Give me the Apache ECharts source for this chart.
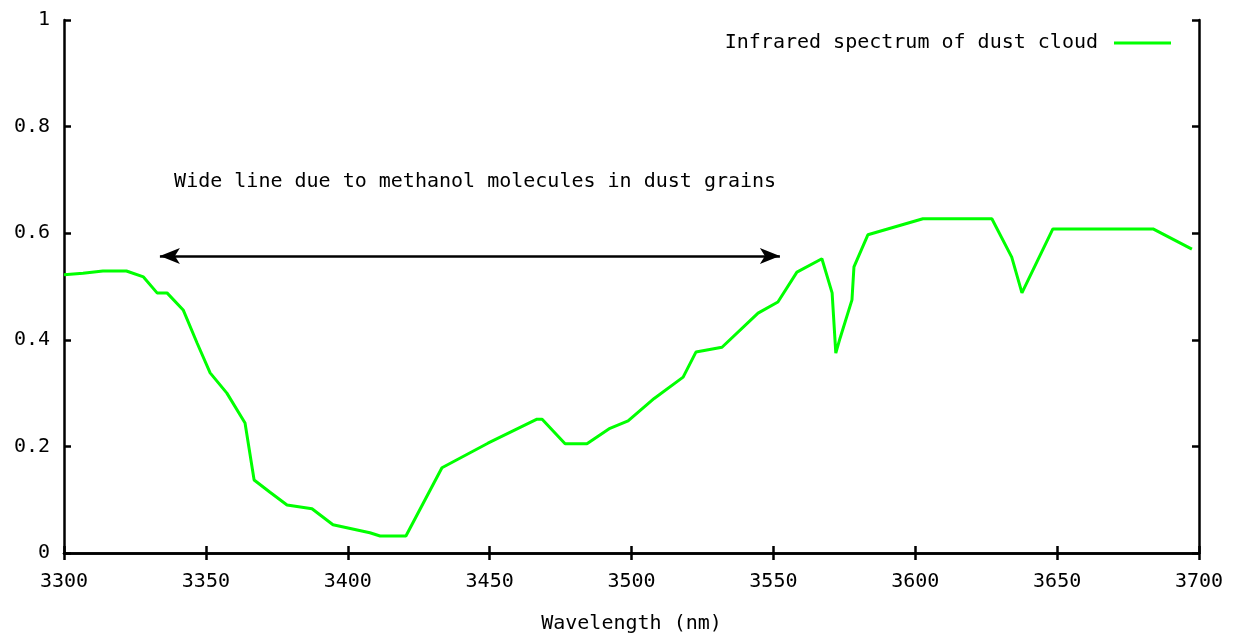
<!DOCTYPE html>
<html>
<head>
<meta charset="utf-8">
<title>Infrared spectrum of dust cloud</title>
<script src="https://cdn.jsdelivr.net/npm/echarts@6/dist/echarts.min.js"></script>
<style>
  html, body { margin: 0; padding: 0; background: #fff; }
  #main { width: 1233px; height: 634px; }
</style>
</head>
<body>
<div id="main"></div>
<script>
// values
var wavelengths = [3300, 3306.7, 3313.7, 3322, 3328, 3332.8, 3336.3, 3342, 3346.9, 3351.5,
    3357.4, 3363.8, 3367, 3372.6, 3378.6, 3387.4, 3394.8, 3407.8, 3411.4, 3420.5,
    3433.2, 3449.4, 3466.7, 3468.5, 3476.6, 3484.3, 3492.4, 3498.8, 3508, 3518.2,
    3522.7, 3531.9, 3544.6, 3551.6, 3558.3, 3567.1, 3570.7, 3572, 3573.5, 3577.7,
    3578.4, 3583.3, 3602.7, 3627, 3634, 3637.6, 3648.5, 3683.8, 3697.5];
var intensity = [0.522, 0.525, 0.529, 0.529, 0.518, 0.488, 0.488, 0.456, 0.394, 0.338,
    0.300, 0.244, 0.137, 0.114, 0.090, 0.083, 0.053, 0.038, 0.032, 0.032,
    0.160, 0.206, 0.251, 0.251, 0.205, 0.205, 0.234, 0.248, 0.290, 0.330,
    0.377, 0.386, 0.450, 0.471, 0.527, 0.552, 0.488, 0.375, 0.403, 0.475,
    0.537, 0.597, 0.627, 0.627, 0.555, 0.488, 0.608, 0.608, 0.570];
var seriesName = 'Infrared spectrum of dust cloud';
var noteText = 'Wide line due to methanol molecules in dust grains';
var notePos = [3338.8, 0.698];
var arrowFrom = [3333.8, 0.557],
    arrowTo = [3552.3, 0.557];

var monoFont = '"DejaVu Sans Mono", "Liberation Mono", monospace';

var myChart = echarts.init(document.getElementById('main'));

var points = [];
for (var i = 0; i < wavelengths.length; i++) {
    points.push([wavelengths[i], intensity[i]]);
}

var axisLineStyle = { color: '#000', width: 2.5 };
var tickStyle = { inside: true, length: 7, lineStyle: { color: '#000', width: 2.5 } };

var option = {
    animation: false,
    backgroundColor: '#fff',
    textStyle: { fontFamily: monoFont },
    grid: { left: 64, right: 34, top: 20, bottom: 81, containLabel: false, outerBoundsMode: 'none' },
    legend: {
        data: [seriesName],
        right: 57,
        top: 28,
        align: 'right',
        icon: 'rect',
        itemWidth: 57,
        itemHeight: 3,
        itemStyle: { color: '#00ff00' },
        textStyle: { fontFamily: monoFont, fontSize: 20, color: '#000', padding: [0, 11, 0, 0] }
    },
    xAxis: [{
        type: 'value',
        min: 3300, max: 3700, interval: 50,
        name: 'Wavelength (nm)',
        nameLocation: 'middle',
        nameGap: 61,
        nameTextStyle: { fontFamily: monoFont, fontSize: 20, color: '#000' },
        axisLine: { lineStyle: axisLineStyle },
        axisTick: tickStyle,
        axisLabel: {
            fontFamily: monoFont, fontSize: 20, color: '#000', margin: 19,
            formatter: function (v) { return String(v); }
        },
        splitLine: { show: false }
    }, {
        type: 'value',
        position: 'top',
        min: 3300, max: 3700, interval: 50,
        axisLine: { lineStyle: axisLineStyle },
        axisTick: tickStyle,
        axisLabel: { show: false },
        splitLine: { show: false }
    }],
    yAxis: [{
        type: 'value',
        min: 0, max: 1, interval: 0.2,
        axisLine: { show: true, lineStyle: axisLineStyle },
        axisTick: { show: true, inside: true, length: 7, lineStyle: { color: '#000', width: 2.5 } },
        axisLabel: { fontFamily: monoFont, fontSize: 20, color: '#000', margin: 14 },
        splitLine: { show: false }
    }, {
        type: 'value',
        position: 'right',
        min: 0, max: 1, interval: 0.2,
        axisLine: { show: true, lineStyle: axisLineStyle },
        axisTick: { show: true, inside: true, length: 7, lineStyle: { color: '#000', width: 2.5 } },
        axisLabel: { show: false },
        splitLine: { show: false }
    }],
    series: [{
        name: seriesName,
        type: 'line',
        data: points,
        showSymbol: false,
        symbol: 'none',
        color: '#00ff00',
        lineStyle: { color: '#00ff00', width: 3 },
        markLine: {
            silent: true,
            symbol: ['arrow', 'arrow'],
            symbolSize: [12, 20],
            label: { show: false },
            lineStyle: { color: '#000', width: 2.5, type: 'solid' },
            data: [[{ coord: arrowFrom }, { coord: arrowTo }]]
        }
    }]
};

myChart.setOption(option);

// annotation text, placed through the axes
var p = myChart.convertToPixel({ gridIndex: 0 }, notePos);
myChart.setOption({
    graphic: [{
        type: 'text',
        left: p[0],
        top: p[1] - 9,
        style: {
            text: noteText,
            fill: '#000',
            font: '20px ' + monoFont
        }
    }]
});
</script>
</body>
</html>
